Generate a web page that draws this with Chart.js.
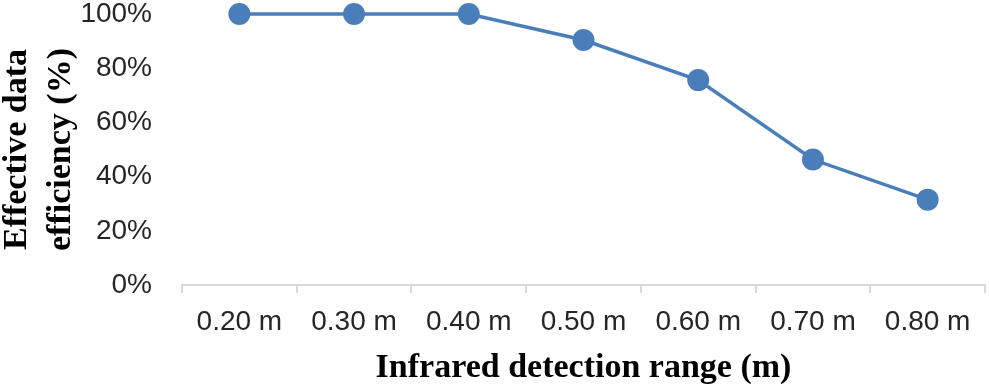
<!DOCTYPE html>
<html>
<head>
<meta charset="utf-8">
<script src="https://cdn.jsdelivr.net/npm/chart.js@4"></script>
<style>
  html, body { margin: 0; padding: 0; background: #fff; overflow: hidden; }
  #box { width: 996px; height: 389px; }
</style>
</head>
<body>
<div id="box"><canvas id="efficiency"></canvas></div>
<script>
// Data
const ranges = ['0.20 m', '0.30 m', '0.40 m', '0.50 m', '0.60 m', '0.70 m', '0.80 m'];
const efficiency = [100, 100, 100, 90.4, 75.6, 46.3, 31.5];
const yTicks = [0, 20, 40, 60, 80, 100];

const blue = '#4a7ebb';
const axisGray = '#d9d9d9';

const ctx = document.getElementById('efficiency');
new Chart(ctx, {
    type: 'line',
    data: {
        labels: ranges,
        datasets: [{
            label: 'Effective data efficiency',
            data: efficiency,
            borderColor: blue,
            backgroundColor: blue,
            borderWidth: 3.5,
            pointRadius: 11,
            pointHoverRadius: 11,
            pointBorderWidth: 0,
            tension: 0,
            clip: false
        }]
    },
    options: {
        responsive: true,
        maintainAspectRatio: false,
        animation: false,
        layout: { padding: { top: 14, right: 0, left: 0, bottom: 0 } },
        plugins: {
            legend: { display: false },
            tooltip: { enabled: false }
        },
        scales: {
            x: {
                offset: true,
                grid: {
                    offset: true,
                    drawOnChartArea: false,
                    drawTicks: true,
                    tickLength: 8,
                    color: axisGray,
                    lineWidth: 2
                },
                border: { color: axisGray, width: 2 },
                ticks: {
                    color: '#262626',
                    font: { family: 'Liberation Sans, Arial, sans-serif', size: 28 },
                    padding: 12,
                    maxRotation: 0
                },
                title: {
                    display: true,
                    text: 'Infrared detection range (m)',
                    color: '#000',
                    font: { family: 'Liberation Serif, Times New Roman, serif', size: 34, weight: 'bold' },
                    padding: { top: 2, bottom: 0 }
                },
                afterFit: scale => {
                    scale.height = 104;
                    scale.paddingLeft = 0;
                    scale.paddingRight = 0;
                }
            },
            y: {
                min: 0,
                max: 100,
                afterBuildTicks: scale => { scale.ticks = yTicks.map(v => ({ value: v })); },
                grid: { display: false },
                border: { display: false },
                ticks: {
                    color: '#262626',
                    font: { family: 'Liberation Sans, Arial, sans-serif', size: 28 },
                    padding: 22,
                    callback: v => v + '%'
                },
                title: {
                    display: true,
                    text: ['Effective data', 'efficiency (%)'],
                    color: '#000',
                    font: { family: 'Liberation Serif, Times New Roman, serif', size: 34, weight: 'bold', lineHeight: 1.3 },
                    padding: { top: -5, bottom: 4 }
                },
                afterFit: scale => {
                    scale.width = 182;
                    scale.paddingTop = 0;
                    scale.paddingBottom = 0;
                }
            }
        }
    }
});
</script>
</body>
</html>
